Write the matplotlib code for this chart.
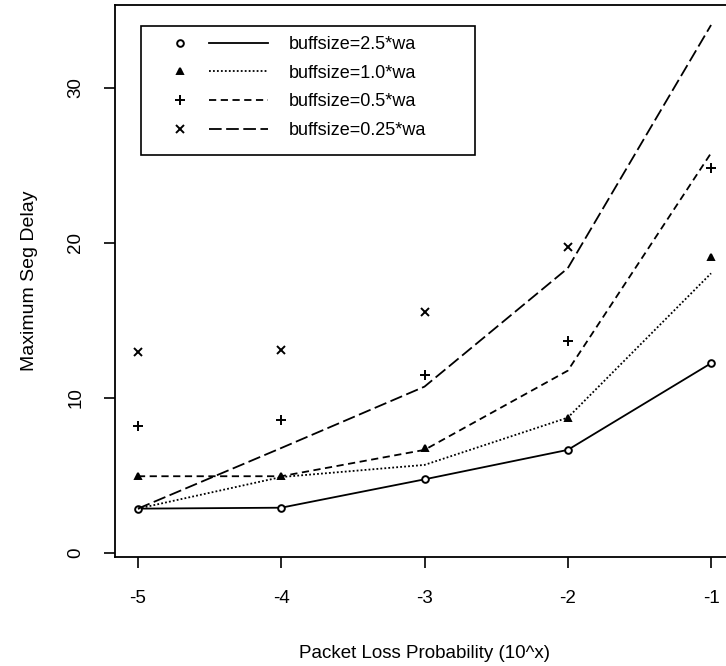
import numpy as np
import matplotlib
matplotlib.use("Agg")
import matplotlib.pyplot as plt
from matplotlib.lines import Line2D
from matplotlib.patches import Rectangle
from matplotlib.legend_handler import HandlerTuple

plt.rcParams['font.family'] = ['Liberation Sans', 'DejaVu Sans']

# x positions (log10 of packet loss probability)
loss_exp = [-5, -4, -3, -2, -1]

# measured points
pts_25 = [2.86, 2.92, 4.75, 6.65, 12.24]
pts_10 = [4.95, 4.95, 6.75, 8.73, 19.1]
pts_05 = [8.2, 8.6, 11.45, 13.68, 24.85]
pts_025 = [12.99, 13.1, 15.53, 19.72, np.nan]

# curves
line_25 = [2.86, 2.92, 4.75, 6.65, 12.24]
line_10 = [2.86, 4.9, 5.68, 8.73, 18.04]
line_05 = [4.95, 4.95, 6.65, 11.76, 25.8]
line_025 = [2.86, 6.77, 10.73, 18.37, 34.06]

labels = ["buffsize=2.5*wa", "buffsize=1.0*wa", "buffsize=0.5*wa", "buffsize=0.25*wa"]

fig = plt.figure(figsize=(7.26, 6.66), dpi=100)
ax = fig.add_axes([115/726, 109/666, 619/726, 552/666])

styles = [
    dict(ls='-', marker='o', mfc='white', ms=4.8),
    dict(ls=(0, (1, 1.2)), marker='^', mfc='black', ms=4.8),
    dict(ls=(0, (4, 2.5)), marker='+', mfc='black', ms=6.5),
    dict(ls=(0, (7, 2.5)), marker='x', mfc='black', ms=5.5),
]
pts = [pts_25, pts_10, pts_05, pts_025]
lines = [line_25, line_10, line_05, line_025]

handles = []
for p, l, st in zip(pts, lines, styles):
    ax.plot(loss_exp, l, color='black', lw=1.3, ls=st['ls'])
    ax.plot(loss_exp, p, color='black', ls='none', marker=st['marker'],
            mfc=st['mfc'], mec='black', ms=st['ms'], mew=1.4)
    hm = Line2D([], [], color='black', ls='none', marker=st['marker'],
                mfc=st['mfc'], mec='black', ms=st['ms'], mew=1.4)
    hl = Line2D([], [], color='black', lw=1.3, ls=st['ls'])
    handles.append((hm, hl))

# legend box drawn separately (R style, extra room on right and bottom)
ax.add_patch(Rectangle((0.042, 0.728), 0.54, 0.2345, transform=ax.transAxes,
                       fill=False, ec='black', lw=1.2, zorder=4))
leg = ax.legend(handles, labels, handler_map={tuple: HandlerTuple(ndivide=None, pad=0)},
                loc='upper left', bbox_to_anchor=(0.057, 0.944), fontsize=13,
                frameon=False, handlelength=6.5, handletextpad=1.15,
                labelspacing=0.65, borderpad=0, borderaxespad=0)

ax.set_xlim(-5.16, -0.84)
ax.set_ylim(-0.26, 35.35)
ax.set_xticks(loss_exp)
ax.set_xticklabels([str(v) for v in loss_exp])
ax.set_yticks([0, 10, 20, 30])
ax.set_yticklabels(['0', '10', '20', '30'], rotation=90, va='center')
ax.tick_params(direction='out', length=8, width=1.2, labelsize=13.5)
ax.tick_params(axis='x', pad=16)
ax.tick_params(axis='y', pad=14)
for s in ax.spines.values():
    s.set_linewidth(1.3)

ax.set_xlabel("Packet Loss Probability (10^x)", fontsize=13.5, labelpad=27)
ax.set_ylabel("Maximum Seg Delay", fontsize=14, labelpad=21)

fig.savefig("out.png", dpi=100)
